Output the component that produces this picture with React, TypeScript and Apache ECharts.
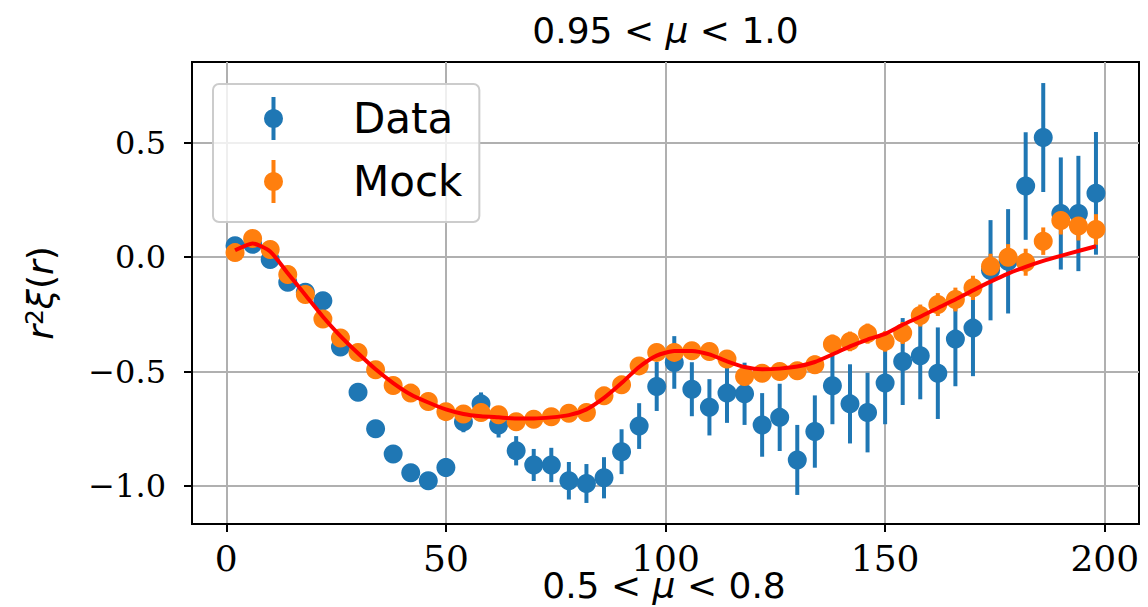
import React, { useEffect, useRef } from "react";
import * as echarts from "echarts";

// Separation r (Mpc/h) of each bin
const radii = [
  2, 6, 10, 14, 18, 22, 26, 30, 34, 38, 42, 46, 50, 54, 58, 62, 66, 70, 74, 78,
  82, 86, 90, 94, 98, 102, 106, 110, 114, 118, 122, 126, 130, 134, 138, 142, 146,
  150, 154, 158, 162, 166, 170, 174, 178, 182, 186, 190, 194, 198,
];

// r^2 xi(r) measured on the data, with 1-sigma errors
const dataXi = [
  0.05, 0.056, -0.01, -0.11, -0.153, -0.19, -0.393, -0.59, -0.75, -0.86,
  -0.942, -0.977, -0.919, -0.719, -0.641, -0.733, -0.846, -0.908, -0.908, -0.977,
  -0.989, -0.964, -0.85, -0.738, -0.565, -0.46, -0.577, -0.656, -0.594, -0.597,
  -0.733, -0.7, -0.886, -0.762, -0.562, -0.641, -0.679, -0.55, -0.456, -0.431,
  -0.507, -0.358, -0.31, -0.057, -0.018, 0.311, 0.523, 0.191, 0.191, 0.279,
];
const dataErr = [
  0.012, 0.015, 0.018, 0.02, 0.023, 0.026, 0.028, 0.03, 0.032, 0.034,
  0.036, 0.038, 0.041, 0.046, 0.05, 0.055, 0.064, 0.07, 0.075, 0.082,
  0.085, 0.09, 0.098, 0.1, 0.107, 0.115, 0.118, 0.123, 0.13, 0.136,
  0.139, 0.147, 0.153, 0.158, 0.168, 0.173, 0.174, 0.18, 0.19, 0.19,
  0.2, 0.206, 0.21, 0.219, 0.228, 0.235, 0.238, 0.245, 0.252, 0.268,
];

// Mean of the mock catalogues, with errors on the mean
const mockXi = [
  0.02, 0.082, 0.034, -0.076, -0.163, -0.27, -0.353, -0.416, -0.492, -0.561,
  -0.594, -0.631, -0.675, -0.685, -0.679, -0.689, -0.719, -0.708, -0.697, -0.682,
  -0.679, -0.606, -0.558, -0.475, -0.416, -0.416, -0.409, -0.412, -0.445, -0.521,
  -0.507, -0.5, -0.496, -0.47, -0.38, -0.368, -0.334, -0.368, -0.331, -0.255,
  -0.207, -0.185, -0.134, -0.04, 0.0, -0.022, 0.07, 0.16, 0.136, 0.121,
];
const mockErr = [
  0.003, 0.004, 0.005, 0.005, 0.006, 0.007, 0.007, 0.008, 0.008, 0.009,
  0.009, 0.01, 0.01, 0.012, 0.013, 0.014, 0.016, 0.018, 0.019, 0.021,
  0.021, 0.023, 0.025, 0.025, 0.027, 0.029, 0.03, 0.031, 0.033, 0.034,
  0.035, 0.037, 0.038, 0.04, 0.042, 0.043, 0.044, 0.045, 0.048, 0.048,
  0.05, 0.052, 0.053, 0.055, 0.057, 0.059, 0.06, 0.061, 0.063, 0.067,
];

// Best-fit model curve
const modelXi = [
  0.03, 0.06, 0.025, -0.07, -0.165, -0.26, -0.345, -0.42, -0.49, -0.55,
  -0.6, -0.635, -0.665, -0.685, -0.695, -0.7, -0.705, -0.705, -0.7, -0.69,
  -0.665, -0.615, -0.55, -0.48, -0.43, -0.41, -0.41, -0.425, -0.455, -0.48,
  -0.49, -0.487, -0.478, -0.458, -0.425, -0.39, -0.36, -0.335, -0.295, -0.26,
  -0.222, -0.185, -0.145, -0.107, -0.072, -0.042, -0.016, 0.006, 0.027, 0.048,
];

const xTicks = [0, 50, 100, 150, 200];
const yTicks = [-1.0, -0.5, 0.0, 0.5];

const BLUE = "#1f77b4";
const ORANGE = "#ff7f0e";
const RED = "#ff0000";
const SANS = "DejaVu Sans";
const SERIF = "DejaVu Serif";

// legend glyph: a filled dot crossed by a vertical error bar
const errIcon =
  "path://M7.5,0 L11.5,0 L11.5,12.213 A9.5,9.5 0 0,1 11.5,30.787 L11.5,43 L7.5,43 L7.5,30.787 A9.5,9.5 0 0,1 7.5,12.213 Z";

function errorBarSeries(values: number[], errs: number[], color: string) {
  return {
    type: "custom",
    silent: true,
    data: radii.map((r, i) => [r, values[i] - errs[i], values[i] + errs[i]]),
    encode: { x: 0, y: [1, 2] },
    renderItem: (_params: any, api: any) => {
      const x = api.value(0);
      const p1 = api.coord([x, api.value(1)]);
      const p2 = api.coord([x, api.value(2)]);
      return {
        type: "line",
        shape: { x1: p1[0], y1: p1[1], x2: p2[0], y2: p2[1] },
        style: { stroke: color, lineWidth: 4 },
      };
    },
  };
}

const fmtY = (v: number) => (v < 0 ? "\u2212" : "") + Math.abs(v).toFixed(1);

const titleStyle = {
  fontFamily: SANS,
  fontSize: 36,
  fontWeight: "normal",
  color: "#000",
  rich: { i: { fontFamily: SANS, fontSize: 36, fontStyle: "italic", color: "#000" } },
};

export default function App() {
  const ref = useRef<HTMLDivElement>(null);

  useEffect(() => {
    if (!ref.current) return;
    const chart = echarts.init(ref.current, undefined, { renderer: "svg" });
    chart.setOption({
      animation: false,
      backgroundColor: "#ffffff",
      title: [
        {
          text: "0.95 < {i|\u03bc} < 1.0",
          left: 665.5,
          textAlign: "center",
          top: 12,
          padding: 0,
          textStyle: titleStyle,
        },
        {
          text: "0.5 < {i|\u03bc} < 0.8",
          left: 664,
          textAlign: "center",
          top: 567,
          padding: 0,
          textStyle: titleStyle,
        },
      ],
      legend: {
        orient: "vertical",
        left: 213,
        top: 84,
        padding: [13, 17, 19, 51],
        itemGap: 20,
        itemWidth: 19,
        itemHeight: 43,
        selectedMode: false,
        backgroundColor: "rgba(255,255,255,0.8)",
        borderColor: "#cccccc",
        borderWidth: 2,
        borderRadius: 6,
        textStyle: {
          fontFamily: SANS,
          fontSize: 42,
          lineHeight: 43,
          color: "#000",
          padding: [0, 0, 0, 65],
        },
        data: [
          { name: "Data", icon: errIcon },
          { name: "Mock", icon: errIcon },
        ],
      },
      grid: {
        left: 192,
        right: 9,
        top: 62,
        bottom: 83,
        show: true,
        borderColor: "#000",
        borderWidth: 2,
        backgroundColor: "transparent",
      },
      xAxis: {
        type: "value",
        min: -7.8,
        max: 207.8,
        axisLine: { show: true, onZero: false, lineStyle: { color: "#000", width: 2 } },
        axisTick: {
          show: true,
          length: 8,
          customValues: xTicks,
          lineStyle: { color: "#000", width: 2 },
        },
        axisLabel: {
          customValues: xTicks,
          margin: 16,
          fontFamily: SERIF,
          fontSize: 36,
          color: "#000",
        },
        splitLine: { show: true, lineStyle: { color: "#b0b0b0", width: 2 } },
      },
      yAxis: {
        type: "value",
        min: -1.166,
        max: 0.853,
        name: "{i|r}{s|2}{i|\u03be}({i|r})",
        nameLocation: "middle",
        nameRotate: 90,
        nameGap: 134,
        nameTextStyle: {
          fontFamily: SANS,
          fontSize: 36,
          color: "#000",
          rich: {
            i: { fontFamily: SANS, fontSize: 36, fontStyle: "italic", color: "#000" },
            s: { fontFamily: SANS, fontSize: 25, verticalAlign: "top", color: "#000" },
          },
        },
        axisLine: { show: true, onZero: false, lineStyle: { color: "#000", width: 2 } },
        axisTick: {
          show: true,
          length: 8,
          customValues: yTicks,
          lineStyle: { color: "#000", width: 2 },
        },
        axisLabel: {
          customValues: yTicks,
          margin: 26,
          fontFamily: SERIF,
          fontSize: 32,
          color: "#000",
          formatter: fmtY,
        },
        splitLine: { show: true, lineStyle: { color: "#b0b0b0", width: 2 } },
      },
      series: [
        errorBarSeries(dataXi, dataErr, BLUE),
        {
          name: "Data",
          type: "scatter",
          symbol: "circle",
          symbolSize: 19,
          itemStyle: { color: BLUE, opacity: 1 },
          data: radii.map((r, i) => [r, dataXi[i]]),
        },
        {
          name: "Model",
          type: "line",
          showSymbol: false,
          smooth: 0.2,
          lineStyle: { color: RED, width: 4 },
          itemStyle: { color: RED },
          data: radii.map((r, i) => [r, modelXi[i]]),
        },
        errorBarSeries(mockXi, mockErr, ORANGE),
        {
          name: "Mock",
          type: "scatter",
          symbol: "circle",
          symbolSize: 19,
          itemStyle: { color: ORANGE, opacity: 1 },
          data: radii.map((r, i) => [r, mockXi[i]]),
        },
      ],
    });
    return () => chart.dispose();
  }, []);

  return (
    <div
      ref={ref}
      style={{ position: "fixed", left: 0, top: 0, width: 1148, height: 607 }}
    />
  );
}
